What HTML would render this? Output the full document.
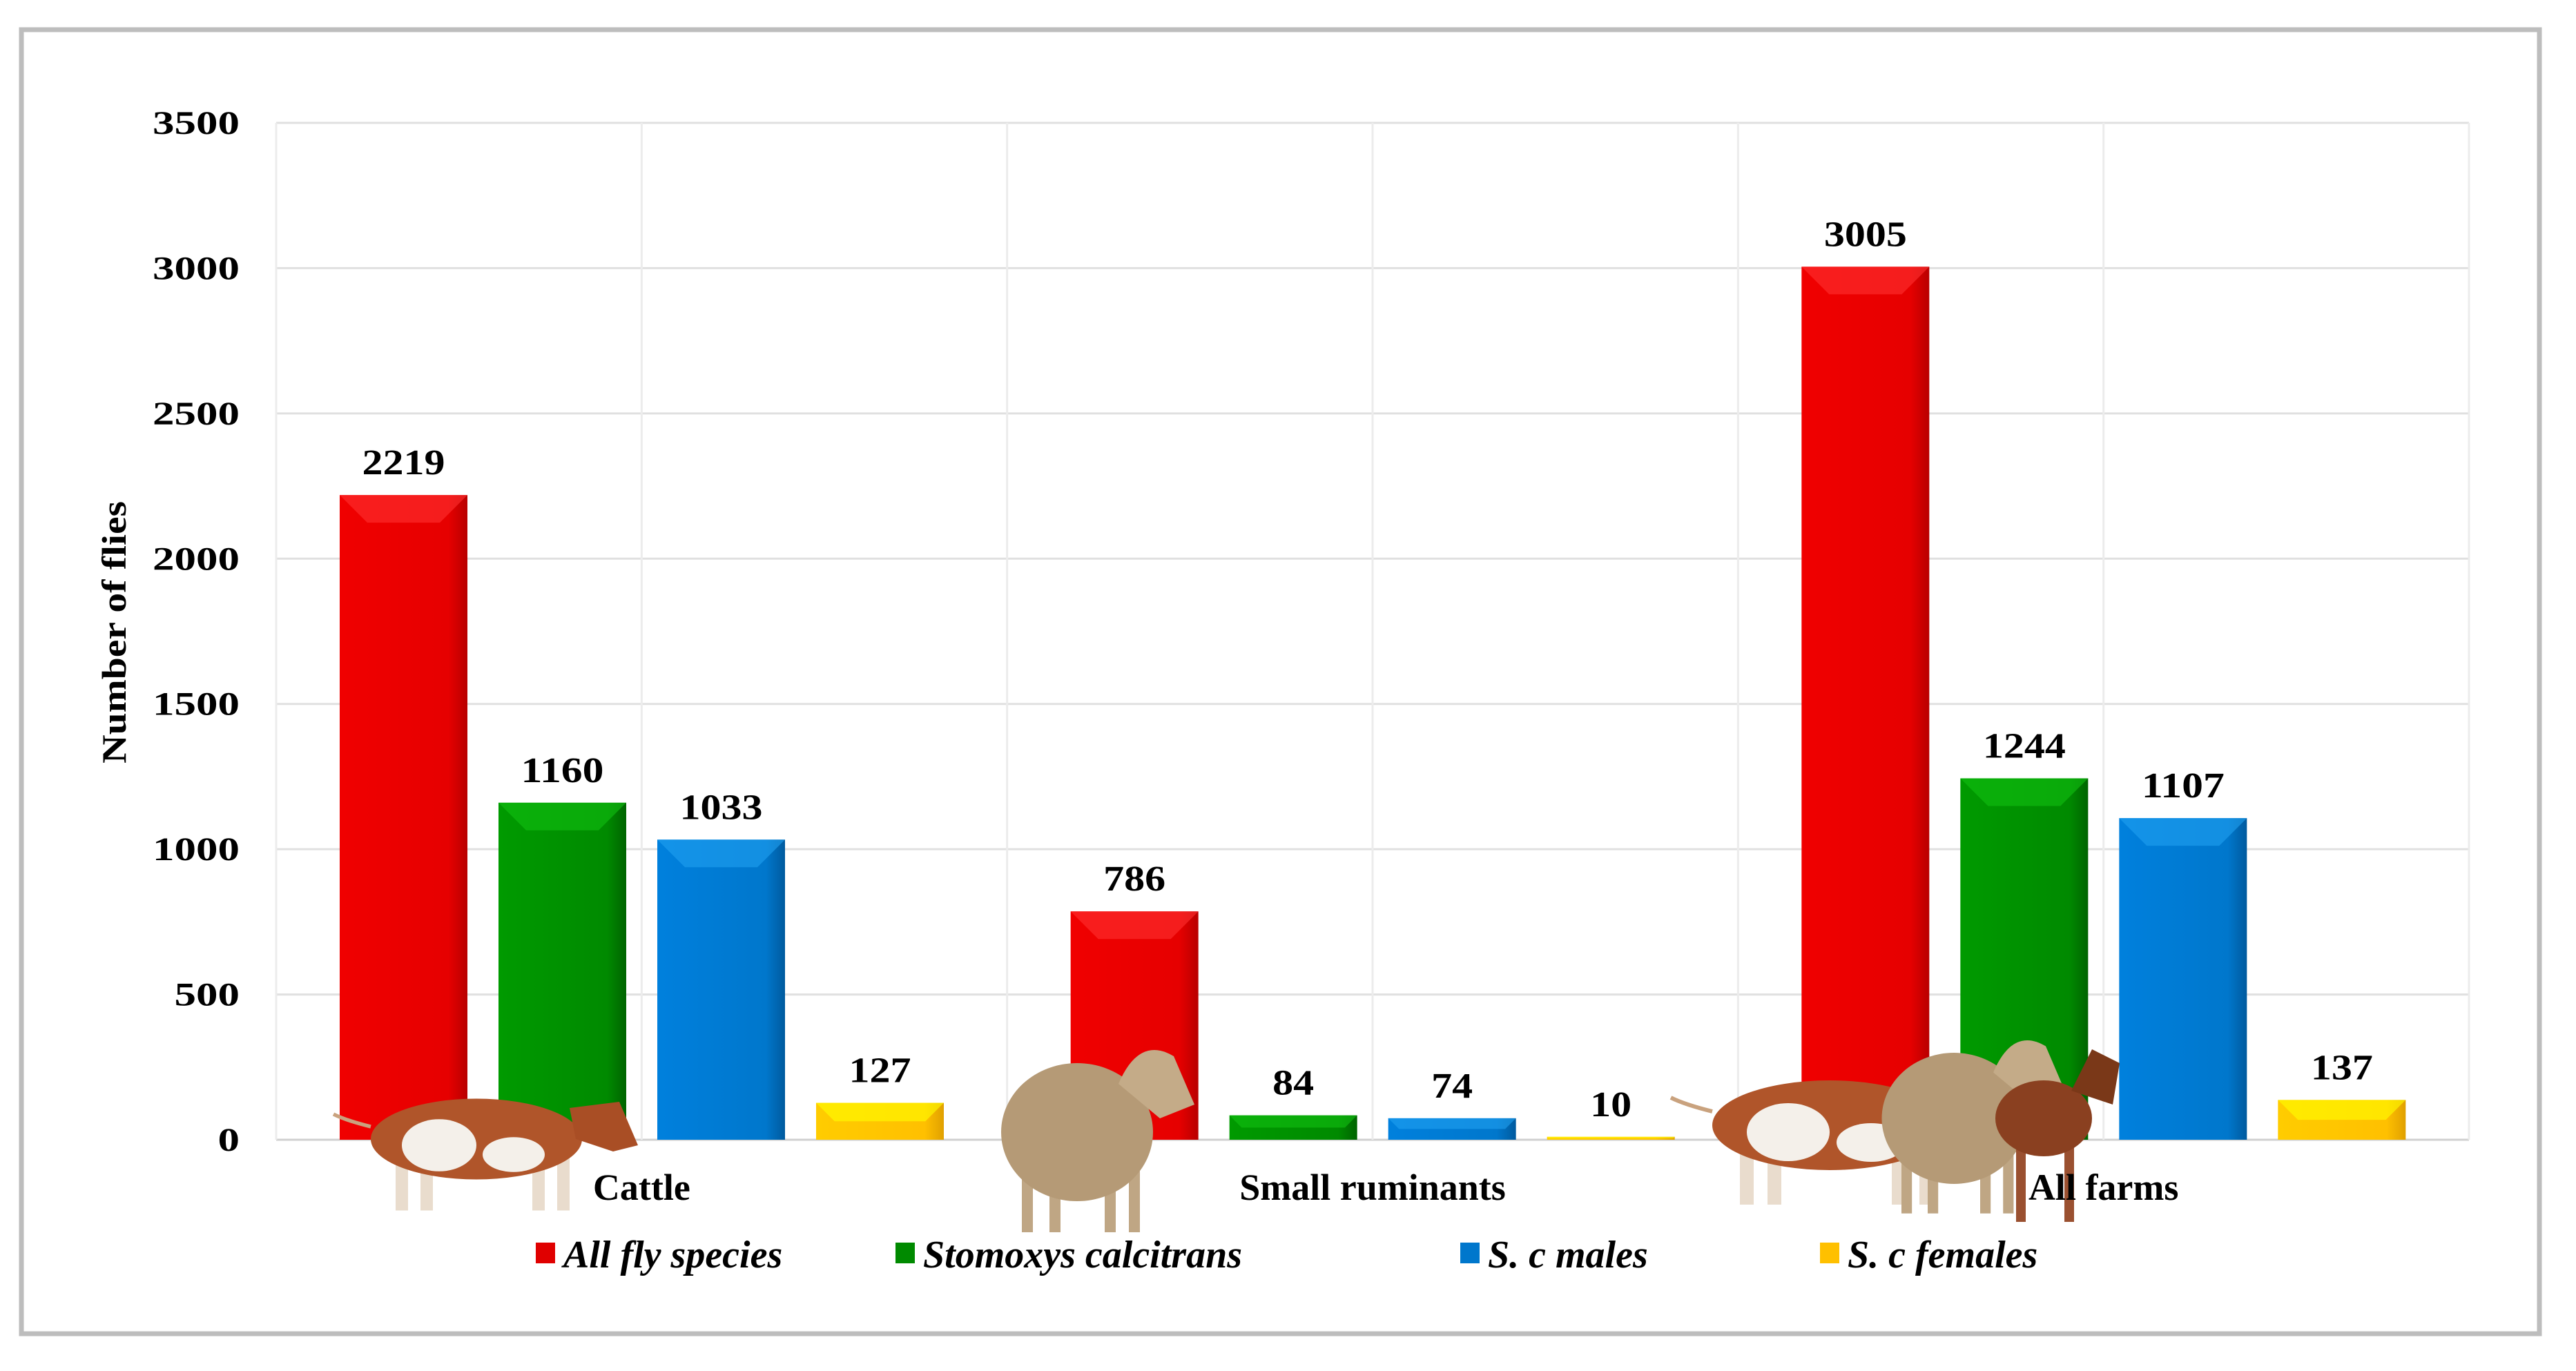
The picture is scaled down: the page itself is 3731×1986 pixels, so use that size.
<!DOCTYPE html>
<html><head><meta charset="utf-8">
<style>
html,body{margin:0;padding:0;background:#fff;}
svg{display:block;font-family:"Liberation Serif",serif;}
</style></head>
<body>
<svg id="chart" width="3731" height="1986" viewBox="0 0 3731 1986" xmlns="http://www.w3.org/2000/svg">
<defs>
<linearGradient id="gred" x1="0" x2="1"><stop offset="0" stop-color="#f00000"/><stop offset="0.85" stop-color="#e60000"/><stop offset="1" stop-color="#b80000"/></linearGradient>
<linearGradient id="ggreen" x1="0" x2="1"><stop offset="0" stop-color="#009a00"/><stop offset="0.85" stop-color="#008a00"/><stop offset="1" stop-color="#006400"/></linearGradient>
<linearGradient id="gblue" x1="0" x2="1"><stop offset="0" stop-color="#0080dd"/><stop offset="0.85" stop-color="#0077cc"/><stop offset="1" stop-color="#005a9e"/></linearGradient>
<linearGradient id="gyellow" x1="0" x2="1"><stop offset="0" stop-color="#ffcc00"/><stop offset="0.85" stop-color="#ffc000"/><stop offset="1" stop-color="#e0a000"/></linearGradient>
</defs>
<rect x="31" y="43" width="3647" height="1889" fill="#fff" stroke="#bdbdbd" stroke-width="7"/>
<g id="grid"></g>
<g id="bars"></g>
<g id="animals"></g>
<g id="labels"></g>
<text transform="translate(182,916) rotate(-90)" text-anchor="middle" font-size="50" font-weight="bold" textLength="380" lengthAdjust="spacingAndGlyphs">Number of flies</text>
<g id="legend"></g>
</svg>
<script>
const categories = ["Cattle", "Small ruminants", "All farms"];
const seriesNames = ["All fly species", "Stomoxys calcitrans", "S. c males", "S. c females"];
const allFly = [2219, 786, 3005];
const stomoxys = [1160, 84, 1244];
const scMales = [1033, 74, 1107];
const scFemales = [127, 10, 137];
const yTicks = [0, 500, 1000, 1500, 2000, 2500, 3000, 3500];

const NS = "http://www.w3.org/2000/svg";
const series = [allFly, stomoxys, scMales, scFemales];
const fills = ["url(#gred)", "url(#ggreen)", "url(#gblue)", "url(#gyellow)"];
const tops = ["#ff3030", "#10c010", "#20a0f0", "#ffff00"];
const solid = ["#e00000", "#008a00", "#0077cc", "#ffc000"];
const X0 = 400, X1 = 3576, Y0 = 1651, Y1 = 178, YMAX = 3500;
const catW = (X1 - X0) / categories.length;
function y(v) { return Y0 - (v / YMAX) * (Y0 - Y1); }
function xBar(ci, si) { return X0 + ci * catW + 92 + si * 230; }
const BW = 185;
function mk(tag, attrs, parent) {
  const e = document.createElementNS(NS, tag);
  for (const k in attrs) e.setAttribute(k, attrs[k]);
  parent.appendChild(e);
  return e;
}
const grid = document.getElementById('grid');
const bars = document.getElementById('bars');
const labels = document.getElementById('labels');
const legend = document.getElementById('legend');
const animals = document.getElementById('animals');

yTicks.forEach(t => {
  const l = mk('line', {x1: X0, x2: X1, y1: y(t), y2: y(t), stroke: t === 0 ? '#d0d0d0' : '#e0e0e0', 'stroke-width': 3}, grid);
  
  
  const s = String(t);
  const tx = mk('text', {x: 347, y: y(t) + 16, 'text-anchor': 'end', 'font-size': 48, 'font-weight': 'bold', textLength: s.length * 31.5, lengthAdjust: 'spacingAndGlyphs'}, labels);
  tx.textContent = s;
  
  
});
for (let i = 0; i <= categories.length * 2; i++) {
  const x = X0 + i * catW / 2;
  const l = mk('line', {x1: x, x2: x, y1: Y1, y2: Y0, stroke: '#ececec', 'stroke-width': 3}, grid);
  
  
}
categories.forEach((c, ci) => {
  series.forEach((s, si) => {
    const v = s[ci];
    const x = xBar(ci, si), yt = y(v), h = Y0 - yt;
    const g = mk('g', {}, bars);
    
    
    mk('rect', {x: x, y: yt, width: BW, height: h, fill: fills[si]}, g);
    const bev = Math.min(40, h / 2);
    mk('polygon', {points: `${x},${yt} ${x + BW},${yt} ${x + BW - bev},${yt + bev} ${x + bev},${yt + bev}`, fill: tops[si], opacity: 0.6}, g);
    const str = String(v);
    const t = mk('text', {x: x + BW / 2, y: yt - 30, 'text-anchor': 'middle', 'font-size': 52, 'font-weight': 'bold', textLength: str.length * 30, lengthAdjust: 'spacingAndGlyphs'}, labels);
    t.textContent = str;
    
    
  });
  const cl = mk('text', {x: X0 + ci * catW + catW / 2, y: 1738, 'text-anchor': 'middle', 'font-size': 54, 'font-weight': 'bold'}, labels);
  cl.textContent = c;
  
  
});
const legX = [776, 1297, 2115, 2636];
seriesNames.forEach((n, i) => {
  const g = mk('g', {}, legend);
  
  
  mk('rect', {x: legX[i], y: 1800, width: 28, height: 30, fill: solid[i]}, g);
  const t = mk('text', {x: legX[i] + 40, y: 1836, 'font-size': 56, 'font-weight': 'bold', 'font-style': 'italic'}, g);
  t.textContent = n;
});
function cow(cx, cy, s, name) {
  const g = mk('g', {transform: `translate(${cx},${cy}) scale(${s})`}, animals);
  
  
  mk('path', {d: 'M-170,-20 Q-210,-30 -230,-40', stroke: '#c9a27e', 'stroke-width': 6, fill: 'none'}, g);
  ['-130', '-90', '90', '130'].forEach(lx => mk('rect', {x: +lx, y: 30, width: 20, height: 85, fill: '#e9dccd'}, g));
  mk('ellipse', {cx: 0, cy: 0, rx: 170, ry: 65, fill: '#b0552a'}, g);
  mk('ellipse', {cx: -60, cy: 10, rx: 60, ry: 42, fill: '#f4f0ea'}, g);
  mk('ellipse', {cx: 60, cy: 25, rx: 50, ry: 28, fill: '#f4f0ea'}, g);
  mk('path', {d: 'M150,-50 L230,-60 L260,10 L220,20 L160,0 Z', fill: '#a94e25'}, g);
}
function sheep(cx, cy, s, name) {
  const g = mk('g', {transform: `translate(${cx},${cy}) scale(${s})`}, animals);
  
  
  [-80, -40, 40, 75].forEach(lx => mk('rect', {x: lx, y: 50, width: 16, height: 95, fill: '#bfa684'}, g));
  mk('ellipse', {cx: 0, cy: 0, rx: 110, ry: 100, fill: '#b59a76'}, g);
  mk('path', {d: 'M60,-70 Q90,-140 140,-110 L170,-40 L120,-20 Z', fill: '#c4ab88'}, g);
}
cow(690, 1650, 0.9, 'cow-image');
sheep(1560, 1640, 1.0, 'sheep-image');
cow(2650, 1630, 1.0, 'cow-image-2');
sheep(2830, 1620, 0.95, 'sheep-image-2');
(function(){
  const g = mk('g', {transform: 'translate(2960,1620)'}, animals);
  
  
  [-40, 30].forEach(lx => mk('rect', {x: lx, y: 40, width: 14, height: 110, fill: '#9a5030'}, g));
  mk('ellipse', {cx: 0, cy: 0, rx: 70, ry: 55, fill: '#8a4020'}, g);
  mk('path', {d: 'M40,-40 L70,-100 L110,-80 L100,-20 Z', fill: '#7a3818'}, g);
})();
</script>
</body></html>
